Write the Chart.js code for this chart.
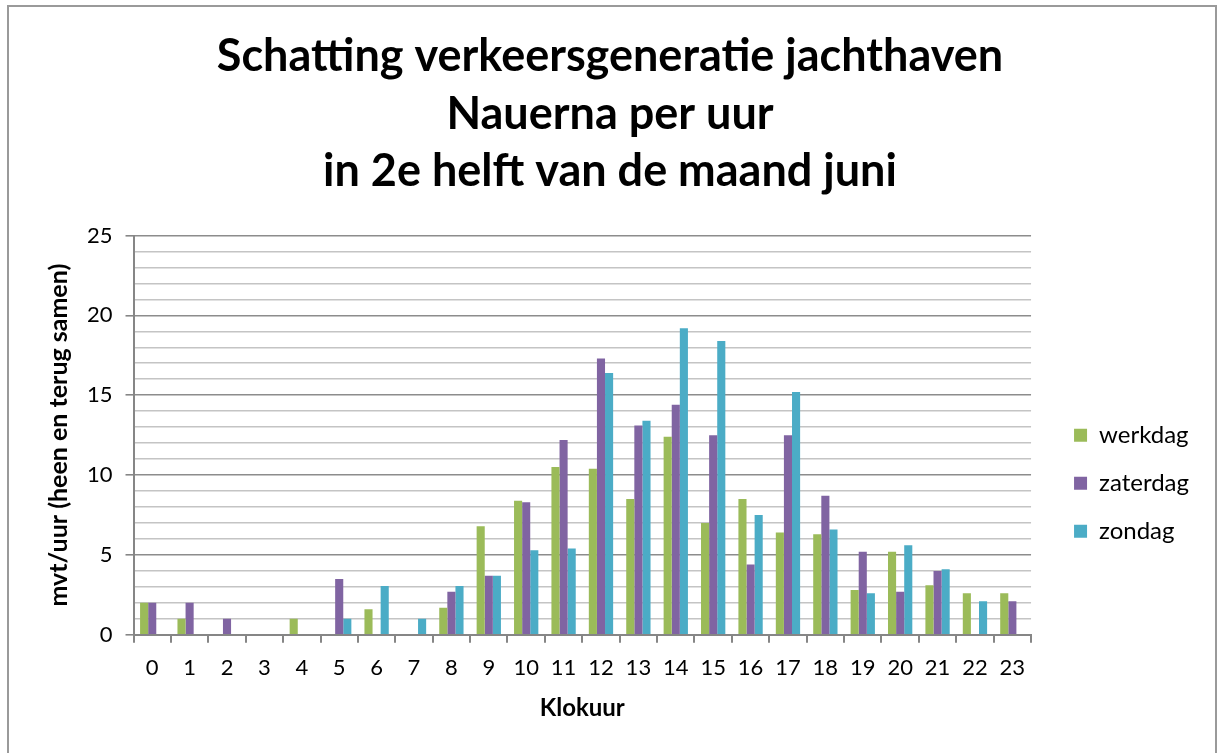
<!DOCTYPE html>
<html>
<head>
<meta charset="utf-8">
<script src="https://cdn.jsdelivr.net/npm/chart.js@4"></script>
<style>
  html, body { margin: 0; padding: 0; background: #fff; overflow: hidden; }
  #wrap { position: absolute; left: 0; top: 0; width: 1222px; height: 753px; }
  #frame { position: absolute; left: 7px; top: 5px; width: 1210px; height: 800px; border: 2px solid #9a9a9a; box-sizing: border-box; pointer-events: none; }
</style>
</head>
<body>
<div id="wrap"><canvas id="c" width="1222" height="753"></canvas></div>
<div id="frame"></div>
<script>
// ── DATA ──
const hours = ['0','1','2','3','4','5','6','7','8','9','10','11','12','13','14','15','16','17','18','19','20','21','22','23'];
const werkdag  = [2, 1, 0, 0, 1, 0, 1.6, 0, 1.7, 6.8, 8.4, 10.5, 10.4, 8.5, 12.4, 7.0, 8.5, 6.4, 6.3, 2.8, 5.2, 3.1, 2.6, 2.6];
const zaterdag = [2, 2, 1, 0, 0, 3.5, 0, 0, 2.7, 3.7, 8.3, 12.2, 17.3, 13.1, 14.4, 12.5, 4.4, 12.5, 8.7, 5.2, 2.7, 4.0, 0, 2.1];
const zondag   = [0, 0, 0, 0, 0, 1, 3.05, 1, 3.05, 3.7, 5.3, 5.4, 16.4, 13.4, 19.2, 18.4, 7.5, 15.2, 6.6, 2.6, 5.6, 4.1, 2.1, 0];
const yTicks = [0, 5, 10, 15, 20, 25];

const FONT = 'Lato, "Noto Sans", sans-serif';
const GREEN = '#9BBB59', PURPLE = '#8064A2', CYAN = '#4BACC6';

// legend items drawn further right of the plot and lower than Chart.js puts them
const LEGEND_DX = 19, LEGEND_DY = 48;
const legendOffset = {
  id: 'legendOffset',
  afterInit(chart) {
    const lg = chart.legend;
    const draw = lg.draw;
    lg.draw = function () {
      this.left += LEGEND_DX; this.right += LEGEND_DX; this.top += LEGEND_DY; this.bottom += LEGEND_DY;
      draw.call(this);
      this.left -= LEGEND_DX; this.right -= LEGEND_DX; this.top -= LEGEND_DY; this.bottom -= LEGEND_DY;
    };
  }
};

const isMajor = v => yTicks.includes(v);

new Chart(document.getElementById('c'), {
  type: 'bar',
  data: {
    labels: hours,
    datasets: [
      { label: 'werkdag',  data: werkdag,  backgroundColor: GREEN },
      { label: 'zaterdag', data: zaterdag, backgroundColor: PURPLE },
      { label: 'zondag',   data: zondag,   backgroundColor: CYAN }
    ]
  },
  plugins: [legendOffset],
  options: {
    responsive: false, animation: false,
    layout: { padding: { left: 40, right: 42, top: 0, bottom: 26 } },
    datasets: { bar: { categoryPercentage: 0.65, barPercentage: 1.0, borderWidth: 0 } },
    plugins: {
      title: {
        display: true,
        text: ['Schatting verkeersgeneratie jachthaven', 'Nauerna per uur', 'in 2e helft van de maand juni'],
        color: '#000', font: { family: FONT, size: 45, weight: 'bold', lineHeight: 1.278 },
        padding: { top: 28, bottom: 35 }
      },
      legend: {
        position: 'right', fullSize: false,
        labels: { color: '#000', boxWidth: 13, boxHeight: 13, padding: 24,
          font: { family: FONT, size: 24 } }
      },
      tooltip: { enabled: false }
    },
    scales: {
      x: {
        grid: { drawOnChartArea: false, drawTicks: true, tickLength: 8, color: '#868686', lineWidth: 2 },
        border: { color: '#868686', width: 2 },
        ticks: { color: '#000', font: { family: FONT, size: 22 }, padding: 12, maxRotation: 0, autoSkip: false },
        title: { display: true, text: 'Klokuur', color: '#000', font: { family: FONT, size: 24, weight: 'bold' }, padding: { top: 1, bottom: 4 } }
      },
      y: {
        min: 0, max: 25,
        grid: {
          color: c => isMajor(c.tick.value) ? '#8c8c8c' : '#c4c4c4',
          tickColor: c => isMajor(c.tick.value) ? '#868686' : 'rgba(0,0,0,0)',
          lineWidth: 1.6, tickLength: 8
        },
        border: { color: '#868686', width: 2 },
        ticks: { stepSize: 1, autoSkip: false, color: '#000', padding: 13, font: { family: FONT, size: 22 },
          callback: v => isMajor(v) ? v : '' },
        title: { display: true, text: 'mvt/uur (heen en terug samen)', color: '#000',
          font: { family: FONT, size: 25, weight: 'bold' }, padding: { top: 4, bottom: 0 } }
      }
    }
  }
});
</script>
</body>
</html>
